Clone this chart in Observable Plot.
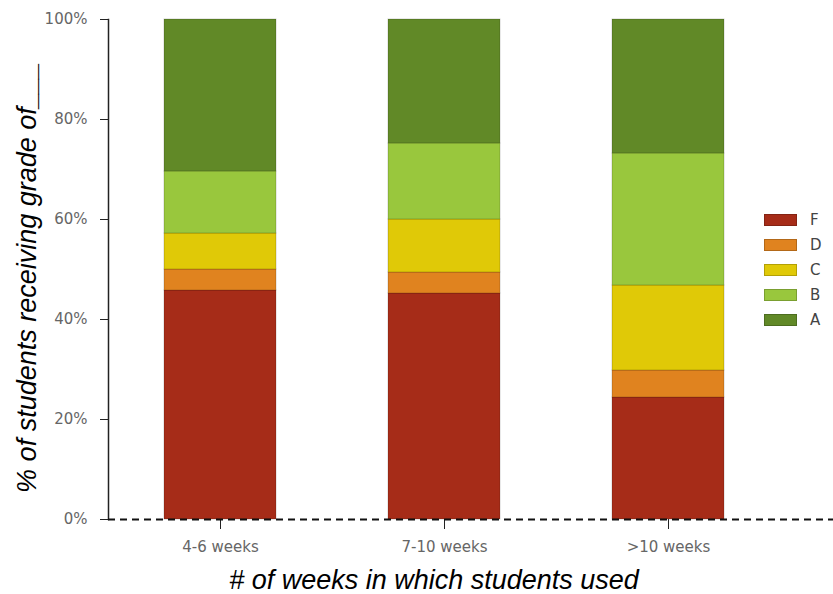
<!DOCTYPE html>
<html>
<head>
<meta charset="utf-8">
<script src="https://cdn.jsdelivr.net/npm/d3@7"></script>
<script src="https://cdn.jsdelivr.net/npm/@observablehq/plot@0.6"></script>
<style>
  html, body { margin: 0; padding: 0; background: #fff; }
  #wrap { position: relative; width: 833px; height: 594px; }
  #legend { position: absolute; left: 764px; top: 207px; font-family: "DejaVu Sans", sans-serif; font-size: 15px; color: #444; }
  .row { display: flex; align-items: center; height: 25px; }
  .sw { width: 31px; height: 10px; border: 1px solid rgba(0,0,0,0.2); margin-right: 13px; }
</style>
</head>
<body>
<div id="wrap"></div>
<script>
const weeks = ["4-6 weeks", "7-10 weeks", ">10 weeks"];
const grades = ["F", "D", "C", "B", "A"];
const gradeColors = ["#a62c18", "#e0831f", "#e0c907", "#99c73d", "#618927"];
const valuesF = [45.8, 45.2, 24.4];
const valuesD = [4.2, 4.2, 5.4];
const valuesC = [7.2, 10.6, 17.0];
const valuesB = [12.4, 15.2, 26.4];
const valuesA = [30.4, 24.8, 26.8];
const yTicks = [0, 20, 40, 60, 80, 100];

const series = {F: valuesF, D: valuesD, C: valuesC, B: valuesB, A: valuesA};
const rows = [];
for (const g of grades) weeks.forEach((w, i) => rows.push({week: w, grade: g, value: series[g][i]}));

const titleFont = "'Liberation Sans', Arial, sans-serif";

const chart = Plot.plot({
  width: 833,
  height: 594,
  marginLeft: 108,
  marginRight: 0,
  marginTop: 19,
  marginBottom: 75,
  style: {fontFamily: "'DejaVu Sans', sans-serif", fontSize: "15px", color: "#666", background: "#fff"},
  x: {domain: weeks, range: [108, 780], paddingInner: 0.5, paddingOuter: 0.25, label: null},
  y: {domain: [0, 100], label: null},
  color: {domain: grades, range: gradeColors},
  marks: [
    Plot.barY(rows, {x: "week", y: "value", fill: "grade", order: grades, stroke: "#000", strokeOpacity: 0.18, strokeWidth: 1}),
    Plot.axisY({ticks: yTicks, tickFormat: d => d + "%", tickSize: 8, tickPadding: 13, stroke: "#222", fill: "#666", label: null}),
    Plot.axisX({tickSize: 10, tickPadding: 12, stroke: "#222", fill: "#666", label: null}),
    Plot.frame({anchor: "left", stroke: "#222", strokeWidth: 1.5}),
    Plot.ruleY([0], {stroke: "#111", strokeWidth: 2, strokeDasharray: "7,5"}),
    Plot.text(["% of students receiving grade of___"], {frameAnchor: "left", textAnchor: "middle", lineAnchor: "middle", dx: -81, dy: 8, rotate: -90, fontSize: 27, fontStyle: "italic", fill: "#000", fontFamily: titleFont}),
    Plot.text(["# of weeks in which students used"], {frameAnchor: "bottom", textAnchor: "middle", lineAnchor: "middle", dx: -37, dy: 61, fontSize: 27, fontStyle: "italic", fill: "#000", fontFamily: titleFont})
  ]
});

const wrap = document.getElementById("wrap");
wrap.appendChild(chart);

const legend = document.createElement("div");
legend.id = "legend";
grades.forEach((g, i) => {
  const row = document.createElement("div");
  row.className = "row";
  const sw = document.createElement("div");
  sw.className = "sw";
  sw.style.background = gradeColors[i];
  const lab = document.createElement("span");
  lab.textContent = g;
  row.appendChild(sw);
  row.appendChild(lab);
  legend.appendChild(row);
});
wrap.appendChild(legend);
</script>
</body>
</html>
